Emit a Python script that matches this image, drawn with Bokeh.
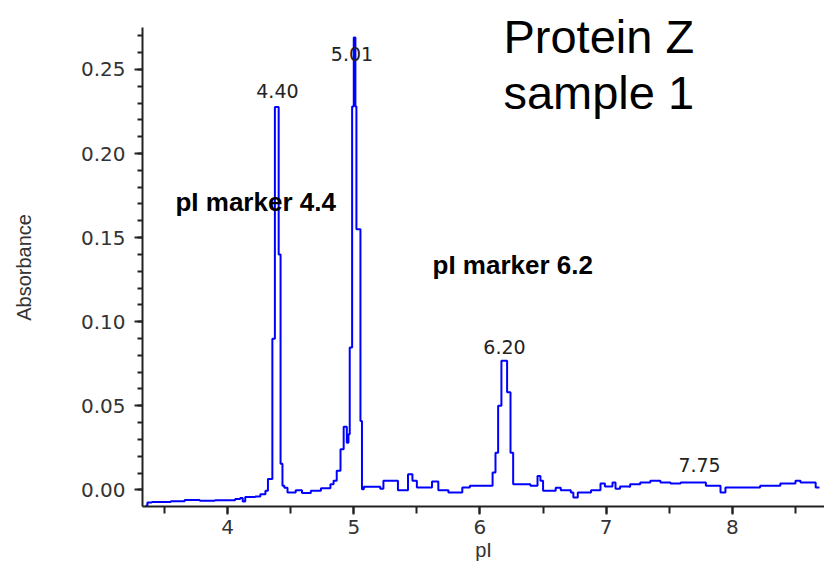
from bokeh.plotting import figure
from bokeh.models import SingleIntervalTicker, PrintfTickFormatter, Label, Range1d
from bokeh.embed import file_html
from bokeh.resources import INLINE

# electropherogram trace (pI, absorbance)
pI = [3.349, 3.365, 3.40, 3.55, 3.66, 3.78, 3.90, 4.06, 4.10, 4.12, 4.14, 4.22, 4.26, 4.30, 4.32,
      4.355, 4.375, 4.405, 4.42, 4.435, 4.45, 4.475, 4.54, 4.59, 4.66, 4.74, 4.815, 4.84, 4.865,
      4.895, 4.92, 4.945, 4.958, 4.968, 4.987, 5.000, 5.013, 5.021, 5.053, 5.065, 5.08, 5.21,
      5.235, 5.35, 5.43, 5.465, 5.50, 5.58, 5.62, 5.67, 5.75, 5.86, 5.92, 6.10, 6.123, 6.144,
      6.17, 6.215, 6.242, 6.263, 6.40, 6.456, 6.479, 6.50, 6.60, 6.64, 6.72, 6.74, 6.775, 6.88,
      6.955, 6.99, 7.05, 7.074, 7.11, 7.18, 7.19, 7.27, 7.35, 7.43, 7.51, 7.59, 7.75, 7.79,
      7.906, 7.945, 8.22, 8.38, 8.50, 8.54, 8.66, 8.69]
absorbance = [-0.0095, -0.0075, -0.0072, -0.0068, -0.0060, -0.0065, -0.0062, -0.0055, -0.0048,
              -0.0070, -0.0042, -0.0040, -0.0026, -0.0006, 0.0065, 0.0899, 0.2276, 0.140, 0.0155,
              0.0024, 0.0012, -0.0016, -0.0002, -0.0018, -0.0006, 0.0010, 0.0034, 0.0054, 0.0113,
              0.0242, 0.0375, 0.028, 0.033, 0.0847, 0.228, 0.269, 0.228, 0.155, 0.041, 0.0004,
              0.0018, 0.0006, 0.0054, -0.0002, 0.0093, 0.0054, 0.0014, 0.0014, 0.0050, -0.0002,
              -0.0016, 0.0014, 0.0024, 0.0103, 0.022, 0.050, 0.0768, 0.058, 0.022, 0.0034, 0.0024,
              0.0083, 0.0054, -0.0006, 0.0012, -0.0002, -0.0016, -0.0046, -0.0016, -0.0002,
              0.0038, 0.0020, 0.0044, 0.0006, 0.0020, 0.0018, 0.0034, 0.0044, 0.0054, 0.0044,
              0.0038, 0.0044, 0.0044, 0.0024, -0.0016, 0.0014, 0.0024, 0.0038, 0.0054, 0.0044,
              0.0014, 0.0014]

peak_labels = ["4.40", "5.01", "6.20", "7.75"]
peak_label_x = [4.395, 4.986, 6.194, 7.74]
peak_label_y = [0.237, 0.259, 0.0847, 0.0145]

marker_labels = ["pI marker 4.4", "pI marker 6.2"]
marker_label_x = [3.587, 5.624]
marker_label_y = [0.1713, 0.134]

title_lines = ["Protein Z", "sample 1"]
title_x = 6.186
title_y = [0.2693, 0.2363]

y_axis_bounds = (-0.0099, 0.275)

p = figure(width=824, height=566, output_backend="svg", toolbar_location=None,
           x_range=Range1d(3.326, 8.73), y_range=Range1d(-0.0099, 0.291),
           min_border_left=142, min_border_right=0, min_border_top=0, min_border_bottom=60)
p.outline_line_color = None
p.xgrid.visible = False
p.ygrid.visible = False

p.step(pI, absorbance, mode="after", line_color="#0000ff", line_width=2)

for ax in (p.xaxis[0], p.yaxis[0]):
    ax.axis_line_width = 2
    ax.axis_line_color = "#222222"
    ax.major_tick_line_color = "#222222"
    ax.minor_tick_line_color = "#222222"
    ax.major_tick_line_width = 2
    ax.minor_tick_line_width = 2
    ax.major_tick_in = 0
    ax.minor_tick_in = 0
    ax.major_label_text_font = "DejaVu Sans"
    ax.major_label_text_font_size = "20px"
    ax.major_label_text_color = "#333333"
    ax.axis_label_text_font = "Liberation Sans"
    ax.axis_label_text_font_size = "20px"
    ax.axis_label_text_font_style = "normal"
    ax.axis_label_text_color = "#333333"

p.xaxis.ticker = SingleIntervalTicker(interval=1, num_minor_ticks=2)
p.xaxis.major_tick_out = 8
p.xaxis.minor_tick_out = 7
p.xaxis.major_label_standoff = 5
p.xaxis.axis_label = "pI"
p.xaxis.axis_label_standoff = 2

p.yaxis.ticker = SingleIntervalTicker(interval=0.05, num_minor_ticks=5)
p.yaxis.formatter = PrintfTickFormatter(format="%.2f")
p.yaxis.bounds = y_axis_bounds
p.yaxis.major_tick_out = 8
p.yaxis.minor_tick_out = 5
p.yaxis.major_label_standoff = 9
# trailing no-break spaces keep the rotated label centred on the axis, not on the taller frame
p.yaxis.axis_label = "Absorbance" + "\u00a0" * 5
p.yaxis.axis_label_standoff = 43

for t, x, y in zip(peak_labels, peak_label_x, peak_label_y):
    p.add_layout(Label(x=x, y=y, text=t, text_align="center", text_baseline="alphabetic",
                       text_font="DejaVu Sans", text_font_size="19px", text_color="#222222"))

for t, x, y in zip(marker_labels, marker_label_x, marker_label_y):
    p.add_layout(Label(x=x, y=y, text=t, text_align="left", text_baseline="alphabetic",
                       text_font="Liberation Sans", text_font_size="26px",
                       text_font_style="bold", text_color="#000000"))

for t, y in zip(title_lines, title_y):
    p.add_layout(Label(x=title_x, y=y, text=t, text_align="left", text_baseline="alphabetic",
                       text_font="Liberation Sans", text_font_size="47px", text_color="#000000"))

open("out.html", "w").write(file_html(p, INLINE))
